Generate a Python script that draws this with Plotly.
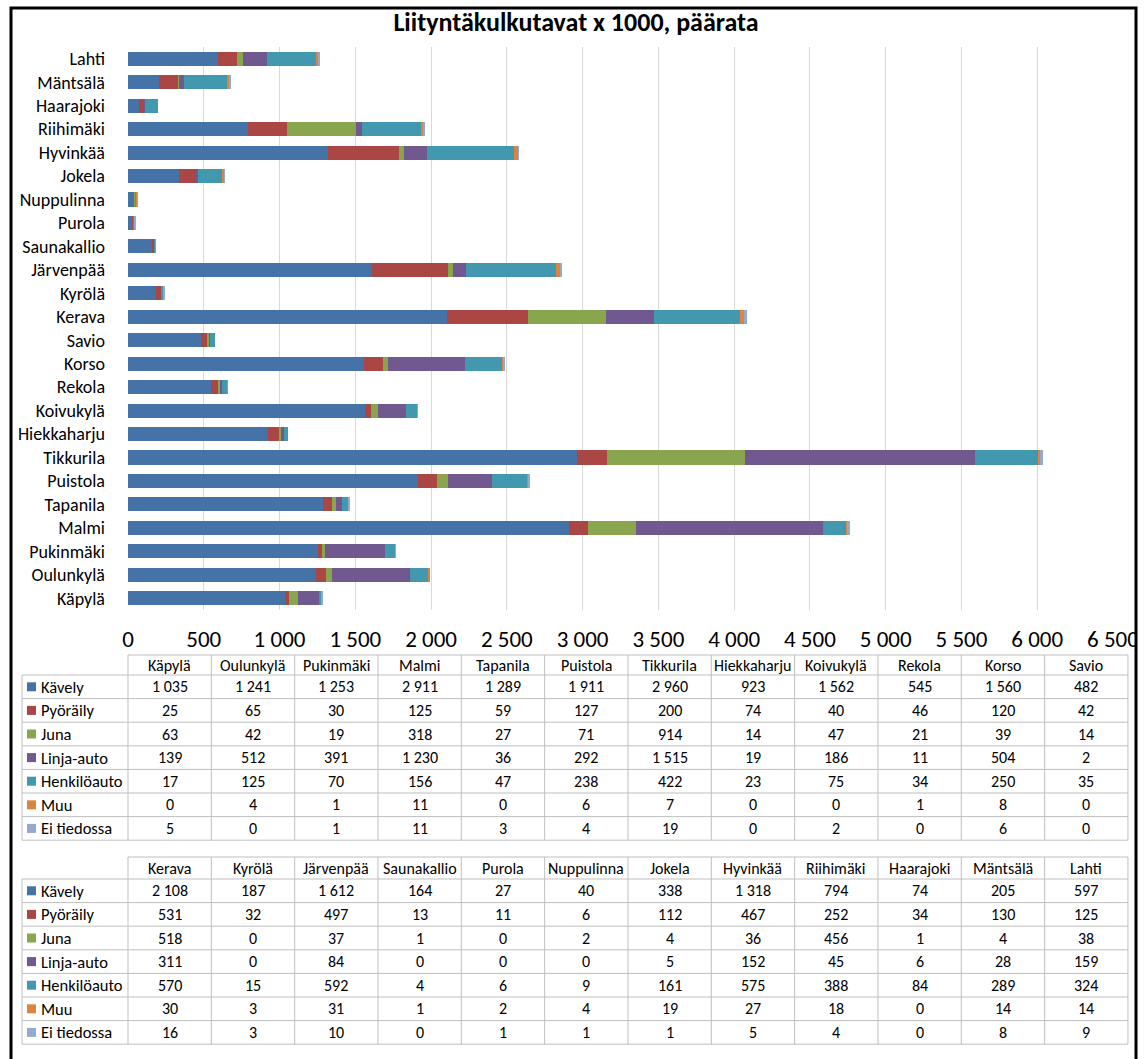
import plotly.graph_objects as go

# ---------------- data ----------------
stations = ["Käpylä", "Oulunkylä", "Pukinmäki", "Malmi", "Tapanila", "Puistola",
            "Tikkurila", "Hiekkaharju", "Koivukylä", "Rekola", "Korso", "Savio",
            "Kerava", "Kyrölä", "Järvenpää", "Saunakallio", "Purola", "Nuppulinna",
            "Jokela", "Hyvinkää", "Riihimäki", "Haarajoki", "Mäntsälä", "Lahti"]

modes = ["Kävely", "Pyöräily", "Juna", "Linja-auto", "Henkilöauto", "Muu", "Ei tiedossa"]

kavely      = [1035, 1241, 1253, 2911, 1289, 1911, 2960, 923, 1562, 545, 1560, 482,
               2108, 187, 1612, 164, 27, 40, 338, 1318, 794, 74, 205, 597]
pyoraily    = [25, 65, 30, 125, 59, 127, 200, 74, 40, 46, 120, 42,
               531, 32, 497, 13, 11, 6, 112, 467, 252, 34, 130, 125]
juna        = [63, 42, 19, 318, 27, 71, 914, 14, 47, 21, 39, 14,
               518, 0, 37, 1, 0, 2, 4, 36, 456, 1, 4, 38]
linja_auto  = [139, 512, 391, 1230, 36, 292, 1515, 19, 186, 11, 504, 2,
               311, 0, 84, 0, 0, 0, 5, 152, 45, 6, 28, 159]
henkiloauto = [17, 125, 70, 156, 47, 238, 422, 23, 75, 34, 250, 35,
               570, 15, 592, 4, 6, 9, 161, 575, 388, 84, 289, 324]
muu         = [0, 4, 1, 11, 0, 6, 7, 0, 0, 1, 8, 0,
               30, 3, 31, 1, 2, 4, 19, 27, 18, 0, 14, 14]
ei_tiedossa = [5, 0, 1, 11, 3, 4, 19, 0, 2, 0, 6, 0,
               16, 3, 10, 0, 1, 1, 1, 5, 4, 0, 8, 9]

series = [kavely, pyoraily, juna, linja_auto, henkiloauto, muu, ei_tiedossa]
colors = ["#4572A7", "#AA4643", "#89A54E", "#71588F", "#4198AF", "#DB843D", "#93A9CF"]

title = "Liityntäkulkutavat x 1000, päärata"

# ---------------- layout helpers ----------------
W, H = 1144, 1059
FONT = "Carlito, Lato, 'Liberation Sans', sans-serif"


def px(x):
    return x / W


def py(y):
    return 1 - y / H


fig = go.Figure()
for name, vals, col in zip(modes, series, colors):
    fig.add_trace(go.Bar(
        y=stations, x=vals, name=name, orientation="h",
        marker=dict(color=col, line=dict(width=0)),
        showlegend=False,
    ))

shapes = []
annotations = []

# white strip outside the frame (clips the overflowing last tick label)
shapes.append(dict(type="rect", xref="paper", yref="paper",
                   x0=px(1137), x1=1.0, y0=0, y1=1,
                   fillcolor="white", line=dict(width=0), layer="above"))
# outer frame
shapes.append(dict(type="rect", xref="paper", yref="paper",
                   x0=px(11), x1=px(1136), y0=py(H + 5), y1=py(8),
                   line=dict(color="black", width=3), layer="above"))


def fmt(v):
    return f"{v:,}".replace(",", " ")


def table(cols, idx_from, top, head_h, row_h):
    left_lab = 22
    x0 = 128
    cw = 83.33
    ncol = len(cols)
    right = x0 + cw * ncol
    bottom = top + head_h + row_h * len(modes)
    lc = "#BFBFBF"
    shapes.append(dict(type="line", xref="paper", yref="paper",
                       x0=px(x0), x1=px(right), y0=py(top), y1=py(top),
                       line=dict(color=lc, width=1)))
    for r in range(len(modes) + 1):
        yy = top + head_h + r * row_h
        shapes.append(dict(type="line", xref="paper", yref="paper",
                           x0=px(left_lab), x1=px(right), y0=py(yy), y1=py(yy),
                           line=dict(color=lc, width=1)))
    shapes.append(dict(type="line", xref="paper", yref="paper",
                       x0=px(left_lab), x1=px(left_lab), y0=py(top + head_h), y1=py(bottom),
                       line=dict(color=lc, width=1)))
    for c in range(ncol + 1):
        xx = x0 + c * cw
        shapes.append(dict(type="line", xref="paper", yref="paper",
                           x0=px(xx), x1=px(xx), y0=py(top), y1=py(bottom),
                           line=dict(color=lc, width=1)))
    for c, name in enumerate(cols):
        annotations.append(dict(xref="paper", yref="paper",
                                x=px(x0 + (c + 0.5) * cw), y=py(top + head_h / 2),
                                text=name, showarrow=False, xanchor="center", yanchor="middle",
                                font=dict(family=FONT, size=16, color="black")))
    for r, (mname, vals, col) in enumerate(zip(modes, series, colors)):
        yc = top + head_h + (r + 0.5) * row_h
        shapes.append(dict(type="rect", xref="paper", yref="paper",
                           x0=px(27), x1=px(36), y0=py(yc + 4.5), y1=py(yc - 4.5),
                           fillcolor=col, line=dict(width=0)))
        annotations.append(dict(xref="paper", yref="paper", x=px(38.5), y=py(yc),
                                text=mname, showarrow=False, xanchor="left", yanchor="middle",
                                font=dict(family=FONT, size=16.5, color="black")))
        for c in range(ncol):
            annotations.append(dict(xref="paper", yref="paper",
                                    x=px(x0 + (c + 0.5) * cw), y=py(yc),
                                    text=fmt(vals[idx_from + c]), showarrow=False,
                                    xanchor="center", yanchor="middle",
                                    font=dict(family=FONT, size=16, color="black")))


table(stations[:12], 0, 655, 20, 23.6)
table(stations[12:], 12, 857, 22, 23.6)

fig.update_layout(
    width=W, height=H,
    margin=dict(l=0, r=0, t=0, b=0, pad=0, autoexpand=False),
    paper_bgcolor="white", plot_bgcolor="white",
    barmode="stack", bargap=0.4,
    separators=", ",
    font=dict(family=FONT, color="black"),
    title=dict(text=f"<b>{title}</b>", x=px(576), y=py(22), xanchor="center", yanchor="middle",
               xref="paper", yref="paper", automargin=False,
               font=dict(family=FONT, size=26, color="black")),
    xaxis=dict(domain=[px(128), px(1113)], range=[0, 6500], dtick=500,
               separatethousands=True, automargin=False,
               showgrid=True, gridcolor="#D9D9D9", gridwidth=1,
               zeroline=False, showline=False, ticks="",
               tickfont=dict(family=FONT, size=23, color="black"),
               ticklabelstandoff=13),
    yaxis=dict(domain=[py(610), py(47)], type="category",
               categoryorder="array", categoryarray=stations,
               range=[-0.5, len(stations) - 0.5], automargin=False,
               showgrid=False, zeroline=False, showline=False, ticks="",
               tickfont=dict(family=FONT, size=18, color="black"),
               ticklabelstandoff=22),
    shapes=shapes,
    annotations=annotations,
)

fig.write_html("out.html")
